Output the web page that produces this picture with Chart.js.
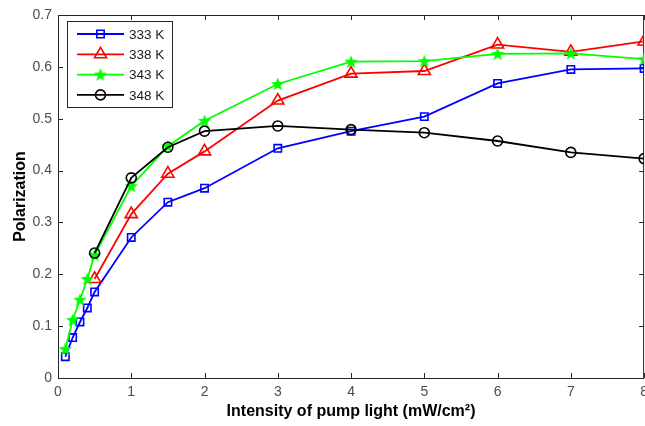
<!DOCTYPE html>
<html>
<head>
<meta charset="utf-8">
<script src="https://cdn.jsdelivr.net/npm/chart.js@4.4.0/dist/chart.umd.min.js"></script>
<style>
  html, body { margin: 0; padding: 0; background: #fff; overflow: hidden; }
  #clip { width: 645px; height: 426px; overflow: hidden; position: relative; }
  /* un peu plus large que la fenêtre : le "8" est coupé au bord comme dans la référence */
  #wrap { width: 654px; height: 426px; position: relative; }
</style>
</head>
<body>
<div id="clip"><div id="wrap"><canvas id="chart"></canvas></div></div>
<script>
// Intensity of pump light (mW/cm2)
const xFull = [0.1, 0.2, 0.3, 0.4, 0.5, 1, 1.5, 2, 3, 4, 5, 6, 7, 8];
const xShort = [0.5, 1, 1.5, 2, 3, 4, 5, 6, 7, 8];

// Polarization per temperature
const p333 = [0.041, 0.078, 0.108, 0.135, 0.166, 0.271, 0.339, 0.366, 0.443, 0.476, 0.504, 0.568, 0.595, 0.597];
const p338 = [0.191, 0.316, 0.394, 0.437, 0.535, 0.587, 0.592, 0.643, 0.629, 0.649];
const p343 = [0.056, 0.112, 0.151, 0.191, 0.237, 0.370, 0.447, 0.496, 0.567, 0.610, 0.611, 0.625, 0.626, 0.615];
const p348 = [0.241, 0.386, 0.445, 0.476, 0.486, 0.479, 0.473, 0.457, 0.435, 0.423];

const seriesLabels = ['333 K', '338 K', '343 K', '348 K'];
const xTicks = [0, 1, 2, 3, 4, 5, 6, 7, 8];
const yTicks = [0, 0.1, 0.2, 0.3, 0.4, 0.5, 0.6, 0.7];

const FONT = '"Liberation Sans", Arial, Helvetica, sans-serif';
const AXIS_GREY = '#262626';
const TICK_TEXT = '#4d4d4d';

// étoile pleine à 5 branches (le 'star' de Chart.js n'est pas une étoile)
function makeStar(r, color) {
    const c = document.createElement('canvas');
    const s = Math.ceil(r * 2 + 2);
    c.width = s; c.height = s;
    const g = c.getContext('2d');
    const cx = s / 2, cy = s / 2 + 0.5;
    g.beginPath();
    for (let i = 0; i < 10; i++) {
        const rad = i % 2 === 0 ? r : r * 0.42;
        const a = -Math.PI / 2 + i * Math.PI / 5;
        const px = cx + rad * Math.cos(a), py = cy + rad * Math.sin(a);
        if (i === 0) g.moveTo(px, py); else g.lineTo(px, py);
    }
    g.closePath();
    g.fillStyle = color;
    g.fill();
    return c;
}
const starImg = makeStar(7, '#00ff00');

function toPoints(xs, ys) {
    return xs.map((x, i) => ({ x: x, y: ys[i] }));
}

const datasets = [
    { label: seriesLabels[0], data: toPoints(xFull, p333), borderColor: '#0000ff',
      pointStyle: 'rect', pointRadius: 5.2, pointBorderWidth: 1.6, order: 4 },
    { label: seriesLabels[1], data: toPoints(xShort, p338), borderColor: '#ff0000',
      pointStyle: 'triangle', pointRadius: 7, pointBorderWidth: 1.6, order: 3 },
    { label: seriesLabels[2], data: toPoints(xFull, p343), borderColor: '#00ff00',
      pointStyle: starImg, pointRadius: 7, pointBorderWidth: 0, order: 2 },
    { label: seriesLabels[3], data: toPoints(xShort, p348), borderColor: '#000000',
      pointStyle: 'circle', pointRadius: 5, pointBorderWidth: 1.6, order: 1 }
].map(d => Object.assign({
    borderWidth: 1.8,
    backgroundColor: 'rgba(0,0,0,0)',
    pointBackgroundColor: 'rgba(0,0,0,0)',
    pointBorderColor: d.borderColor,
    tension: 0
}, d));

// Cadre + graduations vers l'intérieur sur les quatre côtés (style MATLAB)
const boxPlugin = {
    id: 'boxTicks',
    beforeDatasetsDraw(chart) {
        const { ctx, chartArea: a, scales } = chart;
        const len = 5;
        ctx.save();
        ctx.strokeStyle = AXIS_GREY;
        ctx.lineWidth = 1;
        ctx.beginPath();
        ctx.rect(a.left + 0.5, a.top + 0.5, a.right - a.left - 1, a.bottom - a.top);
        xTicks.forEach(v => {
            const px = Math.round(scales.x.getPixelForValue(v)) + 0.5;
            ctx.moveTo(px, a.bottom); ctx.lineTo(px, a.bottom - len);
            ctx.moveTo(px, a.top); ctx.lineTo(px, a.top + len);
        });
        yTicks.forEach(v => {
            const py = Math.round(scales.y.getPixelForValue(v)) + 0.5;
            ctx.moveTo(a.left, py); ctx.lineTo(a.left + len, py);
            ctx.moveTo(a.right, py); ctx.lineTo(a.right - len, py);
        });
        ctx.stroke();
        ctx.restore();
    }
};

// Légende encadrée dans le coin haut-gauche
const legendPlugin = {
    id: 'boxLegend',
    afterDraw(chart) {
        const { ctx, chartArea: a } = chart;
        const x0 = a.left + 9, y0 = a.top + 6, w = 105, h = 86;
        ctx.save();
        ctx.fillStyle = '#fff';
        ctx.fillRect(x0, y0, w, h);
        ctx.strokeStyle = AXIS_GREY;
        ctx.lineWidth = 1;
        ctx.strokeRect(x0 + 0.5, y0 + 0.5, w, h);
        ctx.font = '13.5px ' + FONT;
        ctx.textBaseline = 'middle';
        chart.data.datasets.forEach((ds, i) => {
            const y = y0 + 13 + i * 20.3;
            ctx.strokeStyle = ds.borderColor;
            ctx.lineWidth = 1.8;
            ctx.beginPath();
            ctx.moveTo(x0 + 10, y); ctx.lineTo(x0 + 57, y);
            ctx.stroke();
            const mx = x0 + 33.5;
            if (ds.pointStyle instanceof HTMLCanvasElement) {
                ctx.drawImage(ds.pointStyle, mx - ds.pointStyle.width / 2, y - ds.pointStyle.height / 2);
            } else {
                ctx.fillStyle = 'rgba(0,0,0,0)';
                ctx.lineWidth = ds.pointBorderWidth;
                Chart.helpers.drawPoint(ctx, { pointStyle: ds.pointStyle, radius: ds.pointRadius, borderWidth: ds.pointBorderWidth }, mx, y);
            }
            ctx.fillStyle = '#1a1a1a';
            ctx.fillText(ds.label, x0 + 62, y + 1);
        });
        ctx.restore();
    }
};

new Chart(document.getElementById('chart'), {
    type: 'line',
    data: { datasets: datasets },
    options: {
        responsive: true,
        maintainAspectRatio: false,
        animation: false,
        layout: { padding: { top: 15, right: 0, left: 0, bottom: 0 } },
        plugins: {
            legend: { display: false },
            tooltip: { enabled: false }
        },
        scales: {
            x: {
                type: 'linear',
                min: 0, max: 8,
                afterBuildTicks: s => { s.ticks = xTicks.map(v => ({ value: v })); },
                afterFit: s => { s.height = 48; },
                grid: { display: false, drawTicks: false },
                border: { display: false },
                ticks: { color: TICK_TEXT, font: { family: FONT, size: 14 }, padding: 6, maxRotation: 0 },
                title: {
                    display: true,
                    text: 'Intensity of pump light (mW/cm²)',
                    color: '#000',
                    font: { family: FONT, size: 16, weight: 'bold' },
                    padding: { top: 0, bottom: 5 }
                }
            },
            y: {
                type: 'linear',
                min: 0, max: 0.7,
                afterBuildTicks: s => { s.ticks = yTicks.map(v => ({ value: v })); },
                afterFit: s => { s.width = 58; },
                grid: { display: false, drawTicks: false },
                border: { display: false },
                ticks: {
                    color: TICK_TEXT,
                    font: { family: FONT, size: 14 },
                    padding: 6,
                    callback: v => (v === 0 ? '0' : v.toFixed(1))
                },
                title: {
                    display: true,
                    text: 'Polarization',
                    color: '#000',
                    font: { family: FONT, size: 16, weight: 'bold' },
                    padding: { top: 11, bottom: 0 }
                }
            }
        }
    },
    plugins: [boxPlugin, legendPlugin]
});
</script>
</body>
</html>
